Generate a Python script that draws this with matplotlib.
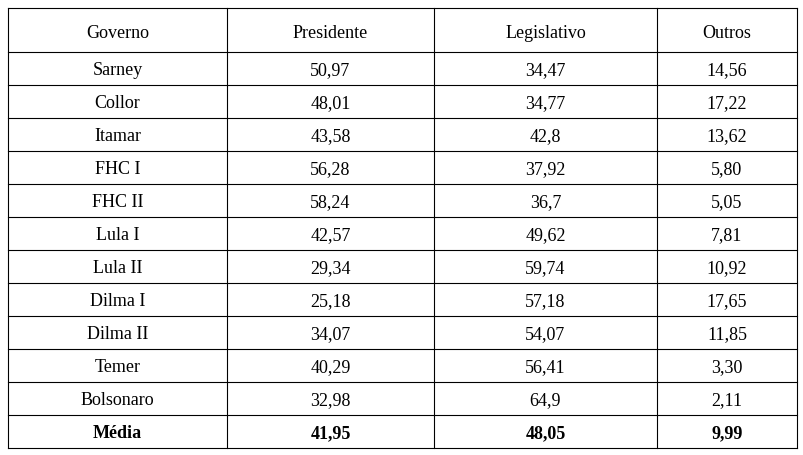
import matplotlib
matplotlib.use("Agg")
import matplotlib.pyplot as plt

headers = ["Governo", "Presidente", "Legislativo", "Outros"]
governos = ["Sarney", "Collor", "Itamar", "FHC I", "FHC II", "Lula I", "Lula II",
            "Dilma I", "Dilma II", "Temer", "Bolsonaro", "Média"]
presidente = ["50,97", "48,01", "43,58", "56,28", "58,24", "42,57", "29,34",
              "25,18", "34,07", "40,29", "32,98", "41,95"]
legislativo = ["34,47", "34,77", "42,8", "37,92", "36,7", "49,62", "59,74",
               "57,18", "54,07", "56,41", "64,9", "48,05"]
outros = ["14,56", "17,22", "13,62", "5,80", "5,05", "7,81", "10,92",
          "17,65", "11,85", "3,30", "2,11", "9,99"]

fig = plt.figure(figsize=(8.04, 4.55), dpi=100)
ax = fig.add_axes([0, 0, 1, 1])
ax.set_xlim(0, 804)
ax.set_ylim(455, 0)
ax.axis("off")

col_edges = [8, 227, 434, 657, 797]
row_edges = [8, 52] + [52 + 33 * (i + 1) for i in range(12)]
font = dict(family="Liberation Serif", fontsize=13, color="black")

for x in col_edges:
    ax.plot([x, x], [row_edges[0], row_edges[-1]], color="black", lw=0.8)
for y in row_edges:
    ax.plot([col_edges[0], col_edges[-1]], [y, y], color="black", lw=0.8)

def cx(i):
    return (col_edges[i] + col_edges[i + 1]) / 2

def cy(r):
    return (row_edges[r] + row_edges[r + 1]) / 2

for i, h in enumerate(headers):
    ax.text(cx(i), cy(0) + 3, h, ha="center", va="center", **font)

cols = [governos, presidente, legislativo, outros]
n = len(governos)
for r in range(n):
    bold = "bold" if r == n - 1 else "normal"
    for c, col in enumerate(cols):
        ax.text(cx(c), cy(r + 1) + 2, col[r], ha="center", va="center",
                fontweight=bold, **font)

fig.savefig("out.png", dpi=100)
